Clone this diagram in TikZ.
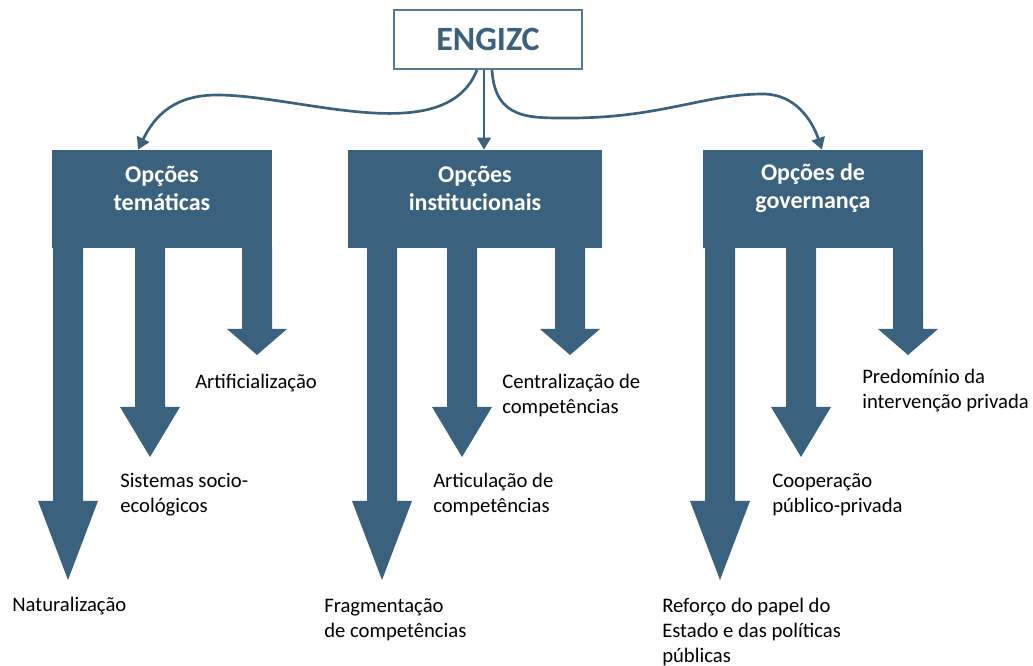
\documentclass[tikz,border=0pt]{standalone}
\usepackage{fontspec}
\setmainfont{Carlito}
\usepackage{tikz}
\usetikzlibrary{positioning}
\usetikzlibrary{calc}
\usetikzlibrary{arrows.meta}

\definecolor{engblue}{RGB}{58,97,126}

\begin{document}
\begin{tikzpicture}[x=0.75pt,y=-0.75pt,
  block/.style={fill=engblue,inner sep=0pt,minimum height=73.5pt},
  blocktext/.style={text=white,font=\fontsize{18pt}{21pt}\selectfont\bfseries,align=center,inner sep=0pt},
  leaf/.style={text=black,right,align=left,inner sep=0pt,font=\fontsize{15.5pt}{18.75pt}\selectfont},
  link/.style={draw=engblue,line width=2pt,-{Triangle[length=9pt,width=10pt]}}]

\useasboundingbox (0,0) rectangle (1033,666);

%TOP
\node[draw=engblue!85,line width=1.5pt,fill=white,minimum width=141pt,minimum height=44.25pt,text=engblue,font=\fontsize{25.5pt}{30pt}\selectfont\bfseries](engizc)at(488,39.5){ENGIZC};

%BLOCKS
\node[block,minimum width=165pt](tema)at(162,199){};
\node[blocktext](tema-label)at(162,188){Opções\\temáticas};
\node[block,minimum width=190.5pt](inst)at(475,199){};
\node[blocktext](inst-label)at(475,188){Opções\\institucionais};
\node[block,minimum width=165pt](gov)at(813,199){};
\node[blocktext](gov-label)at(813,188){Opções de\\governança};

%LINKS
\draw[link] ($(engizc.south)+(-11,0)$) .. controls (445,150) and (300,95) .. (217,95)
  .. controls (175,95) and (155,115) .. ($(tema.north)+(-24,0)$);
\draw[link] ($(engizc.south)+(-4,0)$) -- ($(inst.north)+(9,0)$);
\draw[link] ($(engizc.south)+(4,0)$) .. controls (495,120) and (530,118) .. (570,118)
  .. controls (660,118) and (705,94) .. (763,94)
  .. controls (795,94) and (812,120) .. ($(gov.north)+(9,0)$);

%LEFT
\fill[engblue] (53,247) -- (83,247) -- (83,501) -- (98,501) -- (68,580) -- (38,501) -- (53,501) -- cycle;
\fill[engblue] (135,247) -- (165,247) -- (165,407) -- (180,407) -- (150,457) -- (120,407) -- (135,407) -- cycle;
\fill[engblue] (242,247) -- (272,247) -- (272,329) -- (287,329) -- (257,355) -- (227,329) -- (242,329) -- cycle;

%MIDDLE
\fill[engblue] (367,247) -- (397,247) -- (397,501) -- (412,501) -- (382,580) -- (352,501) -- (367,501) -- cycle;
\fill[engblue] (447,247) -- (477,247) -- (477,407) -- (492,407) -- (462,457) -- (432,407) -- (447,407) -- cycle;
\fill[engblue] (555,247) -- (585,247) -- (585,329) -- (600,329) -- (570,355) -- (540,329) -- (555,329) -- cycle;

%RIGHT
\fill[engblue] (705,247) -- (735,247) -- (735,501) -- (750,501) -- (720,580) -- (690,501) -- (705,501) -- cycle;
\fill[engblue] (786,247) -- (816,247) -- (816,407) -- (831,407) -- (801,457) -- (771,407) -- (786,407) -- cycle;
\fill[engblue] (893,247) -- (923,247) -- (923,329) -- (938,329) -- (908,355) -- (878,329) -- (893,329) -- cycle;

%LABELs
\node[leaf](art-label)at(195,383){Artificialização};
\node[leaf](socio-label)at(120,495){Sistemas socio-\\ecológicos};
\node[leaf](nat-label)at(12,606){Naturalização};
\node[leaf](cent-label)at(502,395.5){Centralização de\\competências};
\node[leaf](artic-label)at(433,494){Articulação de\\competências};
\node[leaf](frag-label)at(324,619.5){Fragmentação\\de competências};
\node[leaf](pred-label)at(862,391){Predomínio da\\intervenção privada};
\node[leaf](coop-label)at(772,494.5){Cooperação\\público-privada};
\node[leaf](ref-label)at(662,632){Reforço do papel do\\Estado e das políticas\\públicas};

\end{tikzpicture}
\end{document}
